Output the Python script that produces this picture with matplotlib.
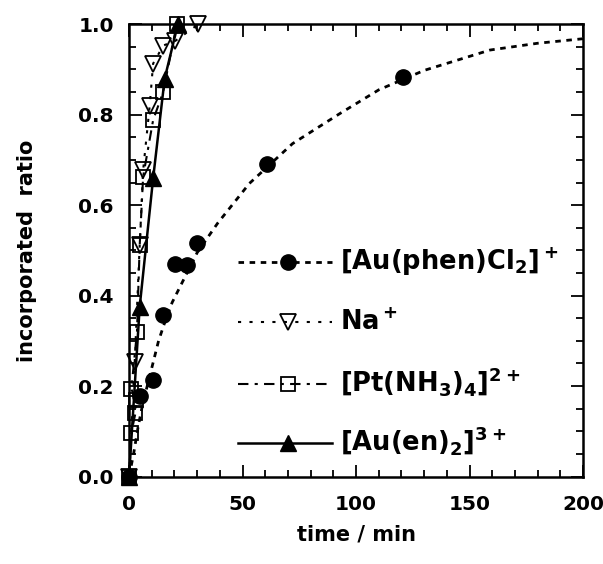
import numpy as np
import matplotlib
matplotlib.use('Agg')
import matplotlib.pyplot as plt
from matplotlib.ticker import MultipleLocator, FormatStrFormatter

plt.rcParams['font.family'] = ['DejaVu Sans']
plt.rcParams['font.weight'] = 'bold'
plt.rcParams['mathtext.fontset'] = 'custom'
plt.rcParams['mathtext.rm'] = 'DejaVu Sans:bold'
plt.rcParams['mathtext.bf'] = 'DejaVu Sans:bold'
plt.rcParams['mathtext.default'] = 'bf'

phen_t = [0, 5, 10.5, 15.1, 20.3, 25.4, 30.1, 60.6, 120.7]
phen_r = [0, 0.178, 0.213, 0.357, 0.471, 0.468, 0.516, 0.692, 0.883]
phen_fit_t = [0, 2, 4, 6, 8, 10, 13, 16, 19, 24, 30, 39, 53, 72, 93, 110, 130, 159, 180, 200]
phen_fit_r = [0, 0.05, 0.11, 0.16, 0.2, 0.24, 0.3, 0.345, 0.385, 0.435, 0.495, 0.56,
              0.648, 0.736, 0.803, 0.855, 0.898, 0.943, 0.958, 0.968]

# Na+
na_t = [0, 2.5, 4.7, 6.2, 9.1, 10.6, 15.1, 20.3, 30.5]
na_r = [0, 0.254, 0.512, 0.677, 0.82, 0.913, 0.953, 0.963, 1.0]

# [Pt(NH3)4]2+
pt_t = [0, 1.0, 2.8, 3.2, 1.0, 3.5, 4.7, 6.2, 10.6, 15.0, 21.0]
pt_r = [0, 0.096, 0.14, 0.17, 0.193, 0.32, 0.512, 0.663, 0.788, 0.85, 1.0]

# [Au(en)2]3+
en_t = [0, 4.7, 10.6, 15.7, 21.5]
en_r = [0, 0.376, 0.659, 0.88, 1.0]

labels = [r'$[Au(phen)Cl_2]^+$', r'$Na^+$', r'$[Pt(NH_3)_4]^{2+}$', r'$[Au(en)_2]^{3+}$']

fig = plt.figure(figsize=(6.03, 5.64), dpi=100)
ax = fig.add_axes([0.214, 0.155, 0.753, 0.802])

ms = 11
styles = [
    dict(lw=2, linestyle=(0, (2, 2)), marker='o', ms=ms, mfc='black'),
    dict(lw=1.5, linestyle=(0, (1.5, 4)), marker='v', ms=ms, mfc='none', mew=1.3),
    dict(lw=1.5, linestyle=(0, (5, 3, 1.5, 3)), marker='s', ms=ms - 1, mfc='none', mew=1.3),
    dict(lw=1.8, linestyle='-', marker='^', ms=ms, mfc='black'),
]

ax.plot(phen_fit_t, phen_fit_r, color='black', lw=2, linestyle=(0, (2, 2)))
ax.plot(phen_t, phen_r, 'o', color='black', ms=ms, zorder=3, clip_on=False)
ax.plot(na_t, na_r, color='black', clip_on=False, **styles[1])
ax.plot(pt_t, pt_r, color='black', clip_on=False, **styles[2])
ax.plot(en_t, en_r, color='black', clip_on=False, **styles[3])

# hand-made legend (axes coordinates)
leg_y = [0.474, 0.342, 0.205, 0.0745]
for y, lab, st in zip(leg_y, labels, styles):
    ax.plot([0.24, 0.35, 0.447], [y, y, y], color='black', markevery=[1],
            transform=ax.transAxes, **st)
    ax.text(0.465, y - 0.017, lab, transform=ax.transAxes, fontsize=18.5,
            ha='left', va='baseline')

ax.set_xlim(0, 200)
ax.set_ylim(0, 1.0)
ax.xaxis.set_major_locator(MultipleLocator(50))
ax.xaxis.set_minor_locator(MultipleLocator(10))
ax.yaxis.set_major_locator(MultipleLocator(0.2))
ax.yaxis.set_minor_locator(MultipleLocator(0.05))
ax.yaxis.set_major_formatter(FormatStrFormatter('%.1f'))
ax.tick_params(which='both', direction='in', top=True, right=True, width=1.3,
               labelsize=14.5, pad=11)
ax.tick_params(axis='x', pad=13)
ax.tick_params(which='major', length=9)
ax.tick_params(which='minor', length=5)
for s in ax.spines.values():
    s.set_linewidth(1.8)

ax.set_xlabel('time / min', fontsize=15, fontweight='bold', labelpad=8)
ax.set_ylabel('incorporated  ratio', fontsize=15, fontweight='bold', labelpad=30)

plt.savefig('out.png', dpi=100)
